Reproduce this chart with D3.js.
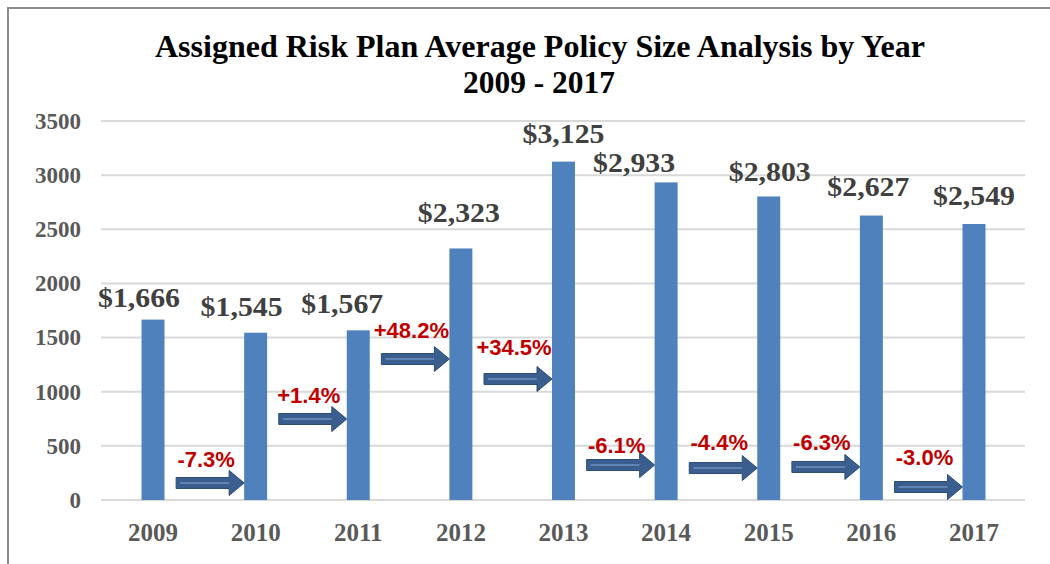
<!DOCTYPE html>
<html>
<head>
<meta charset="utf-8">
<script src="https://cdn.jsdelivr.net/npm/d3@7"></script>
<style>
  body { margin: 0; background: #fff; }
  svg { display: block; }
</style>
</head>
<body>
<div id="chart"></div>
<script>
// values
var years = ["2009", "2010", "2011", "2012", "2013", "2014", "2015", "2016", "2017"];
var avgPolicy = [1666, 1545, 1567, 2323, 3125, 2933, 2803, 2627, 2549];
var changeLabels = ["-7.3%", "+1.4%", "+48.2%", "+34.5%", "-6.1%", "-4.4%", "-6.3%", "-3.0%"];
var arrowLevel = [157, 748, 1302, 1117, 323, 295, 305, 120];   // value where each arrow sits
var yTicks = [0, 500, 1000, 1500, 2000, 2500, 3000, 3500];

// hand placed label nudges (like the excel original)
var valueNudgeX = [-14, -14, -16, -2, 0, -32, 1, -3, 0];
var valueGap = [13, 17, 17, 26, 19, 10, 15, 20, 19];
var pctGap = [16, 16, 21, 24, 12, 18, 17, 22];

var width = 1050, height = 564;
var serif = "'Liberation Serif', 'Times New Roman', serif";
var sans = "'Liberation Sans', Arial, sans-serif";

var svg = d3.select("#chart").append("svg")
  .attr("width", width)
  .attr("height", height);

// frame
svg.append("path")
  .attr("d", "M8," + height + "V8H" + width)
  .attr("fill", "none")
  .attr("stroke", "#8c8c8c")
  .attr("stroke-width", 2);

// title
svg.append("text")
  .attr("x", 540).attr("y", 57)
  .attr("text-anchor", "middle")
  .attr("textLength", 770)
  .attr("lengthAdjust", "spacingAndGlyphs")
  .style("font-family", serif)
  .style("font-weight", "bold")
  .style("font-size", "32px")
  .text("Assigned Risk Plan Average Policy Size Analysis by Year");

svg.append("text")
  .attr("x", 539).attr("y", 93)
  .attr("text-anchor", "middle")
  .attr("textLength", 152)
  .attr("lengthAdjust", "spacingAndGlyphs")
  .style("font-family", serif)
  .style("font-weight", "bold")
  .style("font-size", "32px")
  .text("2009 - 2017");

var x = d3.scaleBand()
  .domain(years)
  .range([101.7, 1025.3])
  .paddingInner(0.776)
  .paddingOuter(0.388);

var y = d3.scaleLinear()
  .domain([0, 3500])
  .range([500, 121]);

// gridlines
svg.append("g")
  .selectAll("line")
  .data(yTicks)
  .enter().append("line")
    .attr("x1", 101).attr("x2", 1025)
    .attr("y1", function(d) { return y(d); })
    .attr("y2", function(d) { return y(d); })
    .attr("stroke", "#d9d9d9")
    .attr("stroke-width", 2);

// y axis labels
svg.append("g")
  .selectAll("text")
  .data(yTicks)
  .enter().append("text")
    .attr("x", 81)
    .attr("y", function(d) { return y(d); })
    .attr("dy", "0.34em")
    .attr("text-anchor", "end")
    .attr("fill", "#595959")
    .style("font-family", serif)
    .style("font-weight", "bold")
    .style("font-size", "23px")
    .text(function(d) { return d; });

// x axis labels
svg.append("g")
  .selectAll("text")
  .data(years)
  .enter().append("text")
    .attr("x", function(d) { return x(d) + x.bandwidth() / 2; })
    .attr("y", 541)
    .attr("text-anchor", "middle")
    .attr("fill", "#595959")
    .style("font-family", serif)
    .style("font-weight", "bold")
    .style("font-size", "25px")
    .text(function(d) { return d; });

// bars
svg.append("g")
  .selectAll("rect")
  .data(avgPolicy)
  .enter().append("rect")
    .attr("x", function(d, i) { return x(years[i]); })
    .attr("y", function(d) { return y(d); })
    .attr("width", x.bandwidth())
    .attr("height", function(d) { return y(0) - y(d); })
    .attr("fill", "#4f81bd");

// value labels
var fmt = d3.format(",");
svg.append("g")
  .selectAll("text")
  .data(avgPolicy)
  .enter().append("text")
    .attr("x", function(d, i) { return x(years[i]) + x.bandwidth() / 2 + valueNudgeX[i]; })
    .attr("y", function(d, i) { return y(d) - valueGap[i]; })
    .attr("text-anchor", "middle")
    .attr("textLength", 82)
    .attr("lengthAdjust", "spacingAndGlyphs")
    .attr("fill", "#404040")
    .style("font-family", serif)
    .style("font-weight", "bold")
    .style("font-size", "28px")
    .text(function(d) { return "$" + fmt(d); });

// change arrows
var arrowLen = 68, headLen = 15, headHalf = 12.5, shaftHalf = 5.5;
var arrows = svg.append("g")
  .selectAll("g")
  .data(changeLabels)
  .enter().append("g")
    .attr("transform", function(d, i) {
      var xEnd = x(years[i + 1]);
      return "translate(" + (xEnd - arrowLen) + "," + y(arrowLevel[i]) + ")";
    });

arrows.append("path")
  .attr("d", "M0," + (-shaftHalf) +
    "H" + (arrowLen - headLen) + "V" + (-headHalf) +
    "L" + arrowLen + ",0" +
    "L" + (arrowLen - headLen) + "," + headHalf +
    "V" + shaftHalf + "H0Z")
  .attr("fill", "#3a5f8f")
  .attr("stroke", "#2c4c75")
  .attr("stroke-width", 1);

arrows.append("line")
  .attr("x1", 4).attr("x2", arrowLen - headLen)
  .attr("y1", 0).attr("y2", 0)
  .attr("stroke", "#7b9ccb")
  .attr("stroke-width", 1.5)
  .attr("opacity", 0.8);

arrows.append("text")
  .attr("x", arrowLen / 2 - 4)
  .attr("y", function(d, i) { return -pctGap[i]; })
  .attr("text-anchor", "middle")
  .attr("fill", "#c00000")
  .style("font-family", sans)
  .style("font-weight", "bold")
  .style("font-size", "22px")
  .text(function(d) { return d; });
</script>
</body>
</html>
